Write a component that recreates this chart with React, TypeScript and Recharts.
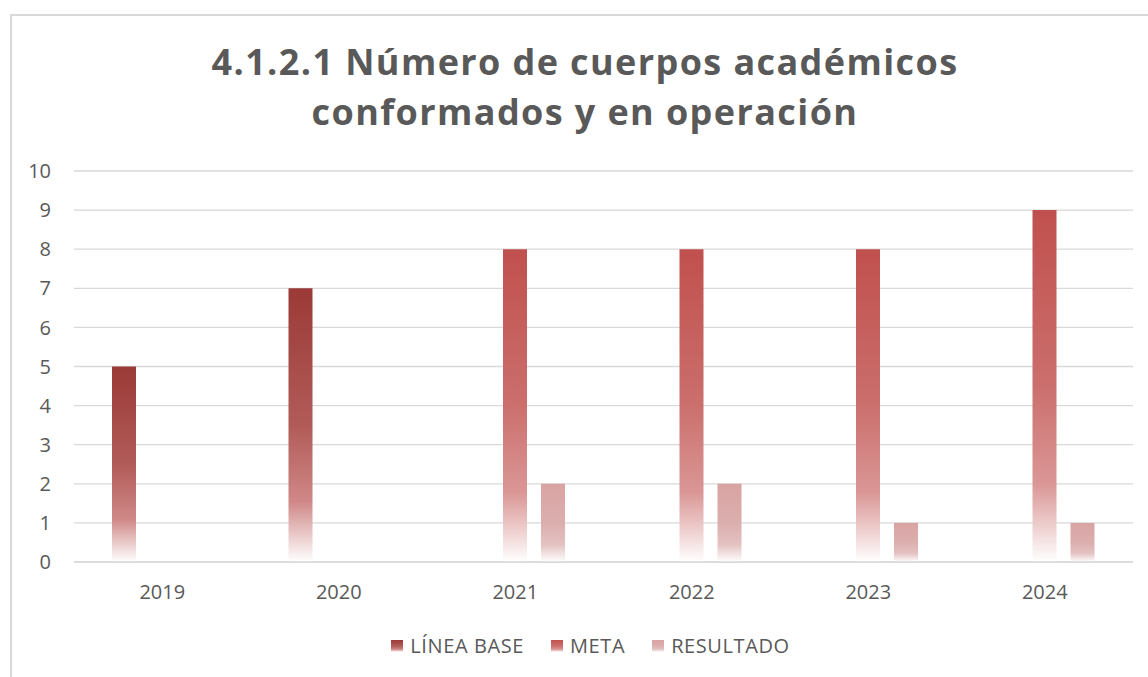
import { BarChart, Bar, XAxis, YAxis, CartesianGrid } from "recharts";

const years = ["2019", "2020", "2021", "2022", "2023", "2024"];
const lineaBase = [5, 7, null, null, null, null];
const meta = [null, null, 8, 8, 8, 9];
const resultado = [null, null, 2, 2, 1, 1];
const yTicks = [0, 1, 2, 3, 4, 5, 6, 7, 8, 9, 10];

const series = [
  { key: "base", name: "LÍNEA BASE", id: "gBase", stops: ["#9B3A37", "#B15B58", "#CF8887", "#FFFFFF"] },
  { key: "meta", name: "META", id: "gMeta", stops: ["#C0504D", "#CB6F6D", "#DA9796", "#FFFFFF"] },
  { key: "res", name: "RESULTADO", id: "gRes", stops: ["#D9A3A3", "#DCAEAE", "#E4C2C2", "#FFFFFF"] },
];

const data = years.map((y, i) => ({
  year: y,
  base: lineaBase[i],
  meta: meta[i],
  res: resultado[i],
}));

const font = "'Open Sans', sans-serif";
const grey = "#595959";

export default function App() {
  return (
    <div style={{ position: "absolute", left: 0, top: 0, width: 1148, height: 677, background: "#fff", fontFamily: font }}>
      <div
        style={{
          position: "absolute",
          left: 10,
          top: 14,
          width: 1200,
          height: 700,
          border: "2px solid #D9D9D9",
        }}
      />
      <div
        style={{
          position: "absolute",
          left: 0,
          top: 37,
          width: 1170,
          textAlign: "center",
          color: grey,
          fontWeight: 700,
          fontSize: 36,
          lineHeight: "50px",
          letterSpacing: 1.4,
        }}
      >
        4.1.2.1 Número de cuerpos académicos
        <br />
        conformados y en operación
      </div>
      <div style={{ position: "absolute", left: 0, top: 0 }}>
        <BarChart
          width={1148}
          height={677}
          data={data}
          margin={{ top: 171, right: 15, left: 0, bottom: 75 }}
          barSize={24}
          barGap={14}
        >
          <defs>
            {series.map((s) => (
              <linearGradient key={s.id} id={s.id} x1="0" y1="0" x2="0" y2="1">
                <stop offset="0" stopColor={s.stops[0]} />
                <stop offset="0.5" stopColor={s.stops[1]} />
                <stop offset="0.78" stopColor={s.stops[2]} />
                <stop offset="1" stopColor={s.stops[3]} />
              </linearGradient>
            ))}
          </defs>
          <CartesianGrid vertical={false} stroke="#D9D9D9" strokeWidth={1.3} />
          <XAxis
            dataKey="year"
            height={40}
            axisLine={{ stroke: "#D9D9D9", strokeWidth: 1.3 }}
            tickLine={false}
            tickSize={0}
            tickMargin={23}
            tick={{ fill: grey, fontSize: 20, fontFamily: font }}
          />
          <YAxis
            width={74}
            domain={[0, 10]}
            ticks={yTicks}
            interval={0}
            axisLine={false}
            tickLine={false}
            tickSize={0}
            tickMargin={23}
            tick={{ fill: grey, fontSize: 20, fontFamily: font }}
          />
          {series.map((s) => (
            <Bar key={s.key} dataKey={s.key} name={s.name} fill={`url(#${s.id})`} isAnimationActive={false} />
          ))}
        </BarChart>
      </div>
      <div
        style={{
          position: "absolute",
          left: 0,
          top: 632,
          width: 1208,
          display: "flex",
          justifyContent: "center",
          alignItems: "center",
          color: grey,
          fontSize: 20,
          letterSpacing: 0.6,
        }}
      >
        {series.map((s) => (
          <div key={s.key} style={{ display: "flex", alignItems: "center", marginRight: 27 }}>
            <div
              style={{
                width: 12,
                height: 12,
                marginRight: 7,
                background: `linear-gradient(to bottom, ${s.stops[0]}, ${s.stops[1]} 50%, ${s.stops[2]} 78%, ${s.stops[3]})`,
              }}
            />
            <span>{s.name}</span>
          </div>
        ))}
      </div>
    </div>
  );
}
